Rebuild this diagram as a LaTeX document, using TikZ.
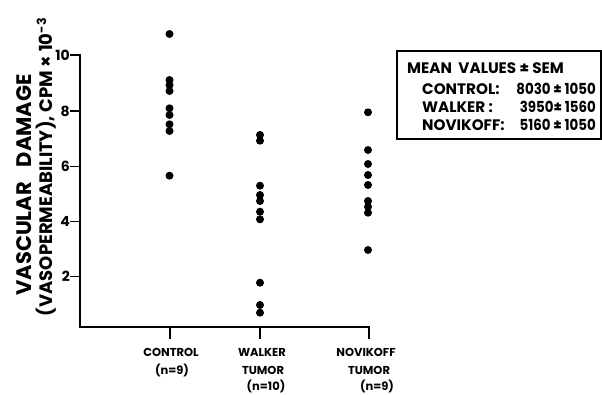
\documentclass[tikz,border=0pt]{standalone}
\usepackage{fontspec}
\setmainfont{Poppins}
\begin{document}
\begin{tikzpicture}[x=1pt,y=-1pt,
  dot/.style={circle,fill=black,inner sep=0pt,minimum size=8pt},
  axis/.style={line width=1.3pt,line cap=rect},
  ticklab/.style={font=\fontsize{14}{14}\selectfont\bfseries,anchor=east,inner sep=0pt},
  catlab/.style={font=\fontsize{11.5}{11.5}\selectfont\bfseries,inner sep=0pt},
  leg/.style={font=\fontsize{15.2}{15.2}\selectfont\bfseries,inner sep=0pt},
  legval/.style={leg,anchor=east,xscale=0.88},
  ylab/.style={rotate=90,inner sep=0pt,font=\bfseries}]
\useasboundingbox (0,0) rectangle (602,394);
% axes
\coordinate (top) at (80,55);
\coordinate (orig) at (80,327);
\coordinate (xend) at (369,327);
\draw[axis] (top) -- (orig) -- (xend);
% y ticks
\foreach \v/\yy in {10/55,8/111,6/166.5,4/221.5,2/276.5}{
  \coordinate (yt\v) at (80,\yy);
  \coordinate (ytl\v) at (71,\yy);
  \draw[axis] (yt\v) -- (ytl\v);
  \node[ticklab] (yl\v) at (70,\yy) {\v};
}
% x ticks
\foreach \n/\xx in {c/170,w/260,n/369}{
  \coordinate (xt\n) at (\xx,327);
  \coordinate (xb\n) at (\xx,338);
  \draw[axis] (xt\n) -- (xb\n);
}
% category labels
\node[catlab] (lc1) at (171,352) {CONTROL};
\node[catlab] (lc2) at (172,370) {(n=9)};
\node[catlab] (lw1) at (262,352) {WALKER};
\node[catlab] (lw2) at (263,370) {TUMOR};
\node[catlab] (lw3) at (266,386) {(n=10)};
\node[catlab] (ln1) at (366,352) {NOVIKOFF};
\node[catlab] (ln2) at (369,370) {TUMOR};
\node[catlab] (ln3) at (377,386) {(n=9)};
% data: control
\foreach \yy [count=\i] in {34,80,85,91,108.3,115,124.3,131,175.7}
  \node[dot] (c\i) at (169.5,\yy) {};
% walker
\foreach \yy [count=\i] in {135,140.7,185.7,195,201,211.7,219.3,282.7,305,312.7}
  \node[dot] (w\i) at (260,\yy) {};
% novikoff
\foreach \yy [count=\i] in {112.3,150,164,175,185,201,206.7,212.7,250}
  \node[dot] (n\i) at (368,\yy) {};
% y label
\node[ylab,font=\fontsize{21}{21}\selectfont\bfseries] (yl1) at (24,185) {VASCULAR\hspace{0.7em}DAMAGE};
\node[ylab,font=\fontsize{18}{18}\selectfont\bfseries] (yl2) at (46,167) {(VASOPERMEABILITY), CPM × 10\textsuperscript{-3}};
% legend
\node[draw,line width=1.2pt,minimum width=204pt,minimum height=88pt,inner sep=0pt] (box) at (499,95) {};
\node[leg,anchor=west] (lt) at (407,68) {MEAN\ \ VALUES ± SEM};
\node[leg,anchor=west] (l1) at (422,89) {CONTROL:};
\node[leg,anchor=west] (l2) at (422,107) {WALKER :};
\node[leg,anchor=west] (l3) at (422,125) {NOVIKOFF:};
\node[legval] (v1) at (596,89) {8030 ± 1050};
\node[legval] (v2) at (596,107) {3950± 1560};
\node[legval] (v3) at (596,125) {5160 ± 1050};
\end{tikzpicture}
\end{document}
